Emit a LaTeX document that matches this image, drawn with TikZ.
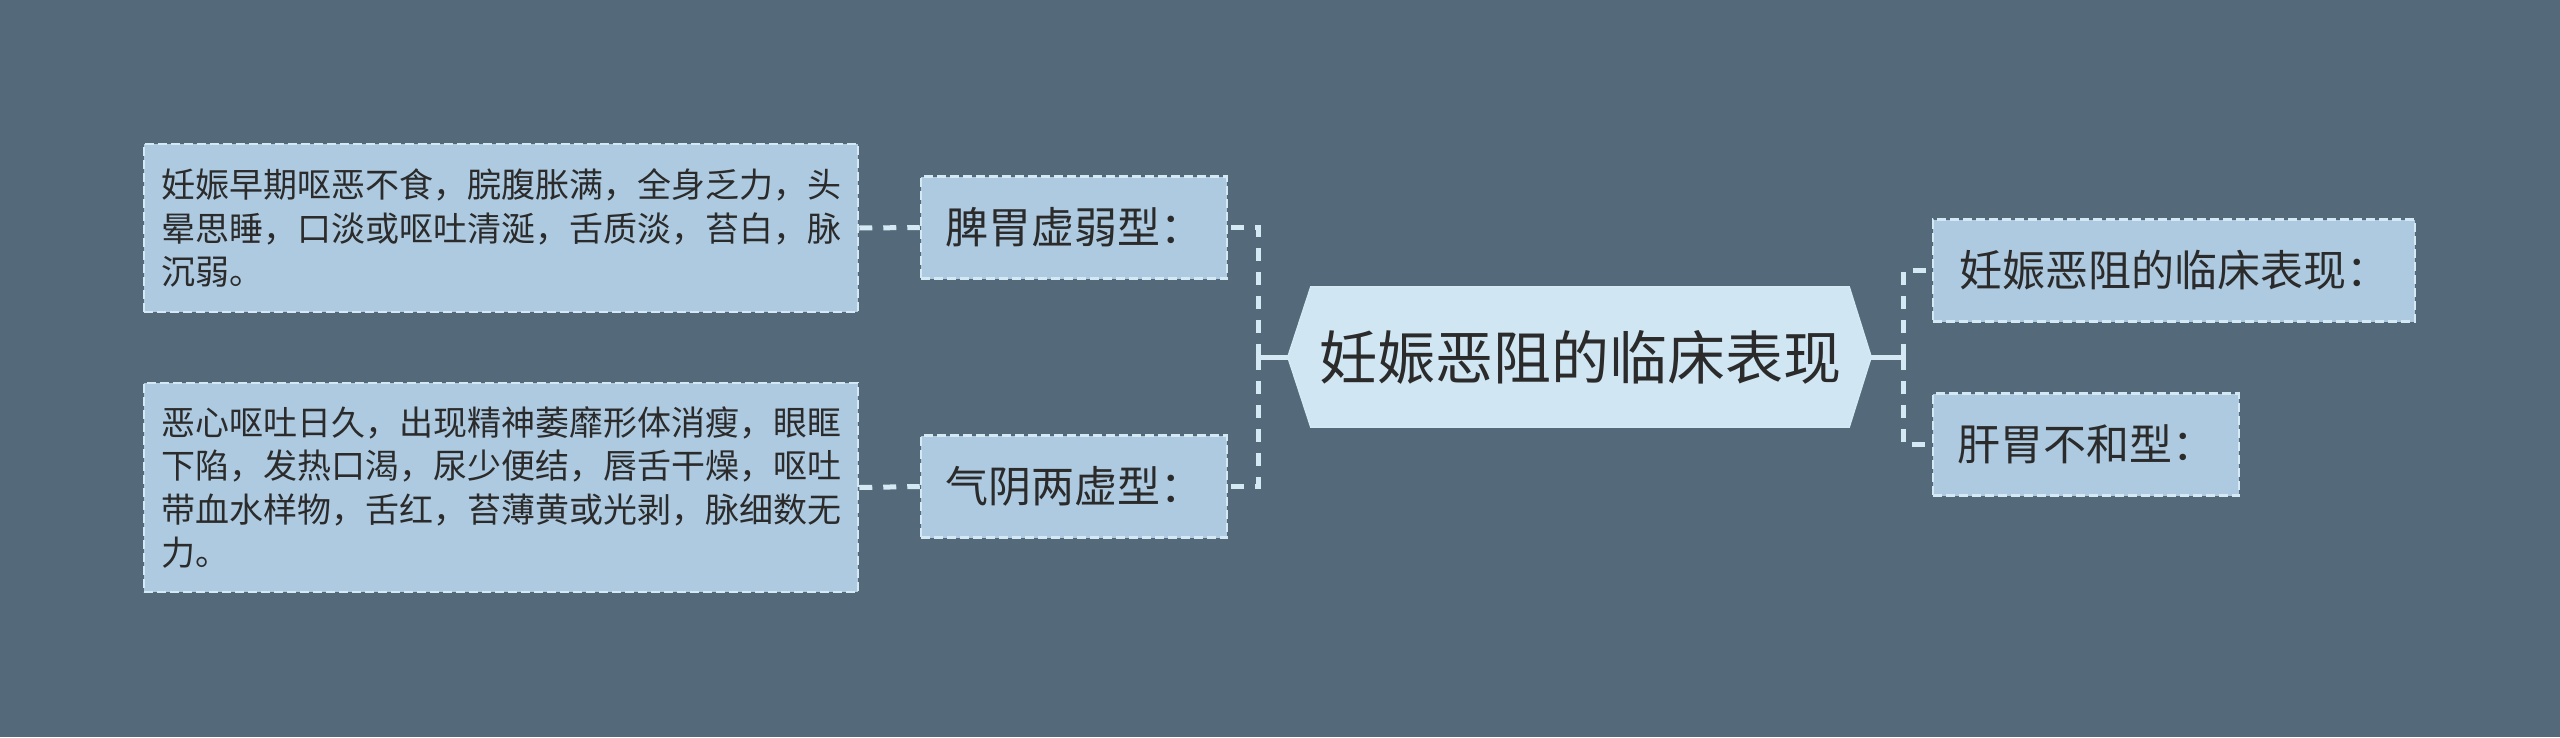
\documentclass[tikz,border=0pt]{standalone}
\usepackage{fontspec}
\setmainfont{Noto Sans CJK SC}
\usetikzlibrary{backgrounds}
\definecolor{bgc}{HTML}{546A7B}
\definecolor{rootfill}{HTML}{D1E6F3}
\definecolor{boxfill}{HTML}{ADCAE0}
\definecolor{linec}{HTML}{D5E9F5}
\definecolor{txt}{HTML}{2B2B2B}
\tikzset{
  lvlbox/.style={rectangle, fill=boxfill, draw=linec, line width=2.5pt, dash pattern=on 9pt off 4pt, text=txt, font=\fontsize{43}{50}\selectfont, inner sep=0pt, minimum height=102pt},
  descbox/.style={rectangle, fill=boxfill, draw=linec, line width=2.5pt, dash pattern=on 9pt off 4pt, text=txt, font=\fontsize{34}{43.5}\selectfont, inner xsep=17pt, inner ysep=0pt, text width=680pt, align=left},
  rootbox/.style={rectangle, text=txt, font=\fontsize{58}{66}\selectfont, minimum width=538pt, minimum height=140pt, inner sep=0pt},
  conn/.style={draw=linec, line width=5pt},
  dconn/.style={conn, dash pattern=on 13pt off 11pt},
}
\begin{document}
\begin{tikzpicture}[x=1pt,y=-1pt]
\begin{scope}[on background layer]
\fill[bgc] (0,0) rectangle (2560,737);
\end{scope}
\useasboundingbox (0,0) rectangle (2560,737);

\node[rootbox] (root) at (1580,357) {妊娠恶阻的临床表现};
\begin{scope}[on background layer]
\filldraw[fill=rootfill, draw=linec, line width=1.5pt] (root.north west) -- (root.north east) -- ([xshift=22pt]root.east) -- (root.south east) -- (root.south west) -- ([xshift=-23pt]root.west) -- cycle;
\end{scope}

\node[lvlbox, minimum width=306pt] (n1) at (1074,227.5) {脾胃虚弱型：};
\node[lvlbox, minimum width=306pt] (n2) at (1074,486.5) {气阴两虚型：};
\node[lvlbox, minimum width=482pt] (r1) at (2174,270.5) {妊娠恶阻的临床表现：};
\node[lvlbox, minimum width=306pt] (r2) at (2086,444.5) {肝胃不和型：};

\node[descbox, minimum height=168pt] (d1) at (501,228) {妊娠早期呕恶不食，脘腹胀满，全身乏力，头\\晕思睡，口淡或呕吐清涎，舌质淡，苔白，脉\\沉弱。};
\node[descbox, minimum height=209pt] (d2) at (501,487.5) {恶心呕吐日久，出现精神萎靡形体消瘦，眼眶\\下陷，发热口渴，尿少便结，唇舌干燥，呕吐\\带血水样物，舌红，苔薄黄或光剥，脉细数无\\力。};

\coordinate (ltip) at ([xshift=-23pt]root.west);
\coordinate (rtip) at ([xshift=22pt]root.east);
\coordinate (ljoin) at (1258,357);
\coordinate (rjoin) at (1903,357);

\draw[conn] (ltip) -- (ljoin);
\draw[dconn] (ljoin) |- (n1.east);
\draw[dconn] (ljoin) |- (n2.east);
\draw[conn] (rtip) -- (rjoin);
\draw[dconn] (rjoin) |- (r1.west);
\draw[dconn] (rjoin) |- (r2.west);
\draw[dconn] (d1.east) -- (n1.west);
\draw[dconn] (d2.east) -- (n2.west);
\end{tikzpicture}
\end{document}
